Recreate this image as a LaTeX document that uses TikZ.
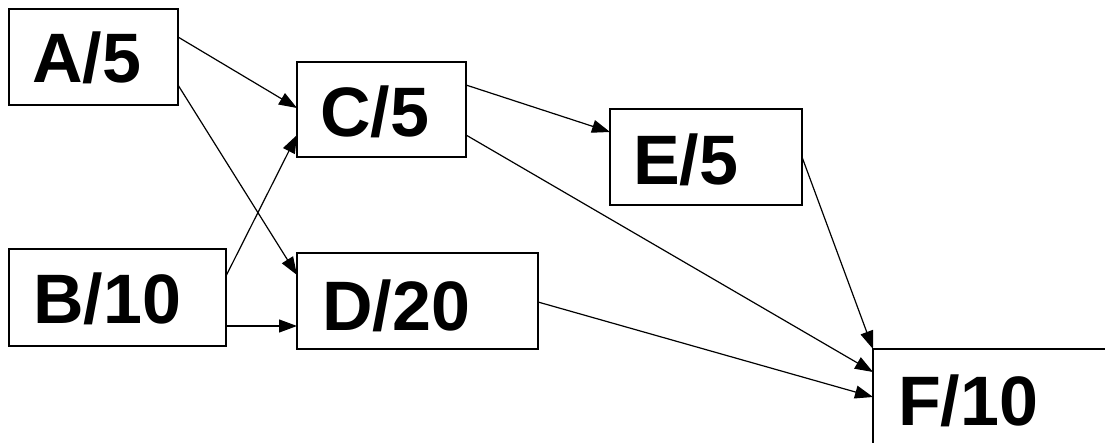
\documentclass[tikz,border=0pt]{standalone}
\usepackage{fontspec}
\setmainfont{Liberation Sans}
\usetikzlibrary{arrows.meta}
\begin{document}
\begin{tikzpicture}[x=1pt,y=1pt,
  box/.style={draw=black,line width=1.4pt,rectangle,inner sep=0pt,outer sep=0pt,fill=white},
  lbl/.style={anchor=base west,inner sep=0pt,font=\fontsize{70}{84}\selectfont\bfseries},
  arr/.style={draw=black,line width=1.2pt,-{Triangle[length=18pt,width=13pt]}}]
\useasboundingbox (0,0) rectangle (1105,442);
\clip (0,0) rectangle (1105,442);
\fill[white] (0,0) rectangle (1105,442);
% boxes
\node[box,minimum width=169pt,minimum height=96pt] (A) at (93.5,385) {};
\node[box,minimum width=217pt,minimum height=97pt] (B) at (117.5,144.5) {};
\node[box,minimum width=169pt,minimum height=95pt] (C) at (381.5,332.5) {};
\node[box,minimum width=241pt,minimum height=96pt] (D) at (417.5,141) {};
\node[box,minimum width=192pt,minimum height=96pt] (E) at (706,285) {};
\node[box,minimum width=277pt,minimum height=101pt] (F) at (1011.5,42.5) {};
% labels
\node[lbl] (tA) at (32,359) {A/5};
\node[lbl] (tB) at (33,119) {B/10};
\node[lbl] (tC) at (320,305) {C/5};
\node[lbl] (tD) at (322,112) {D/20};
\node[lbl] (tE) at (633,257) {E/5};
\node[lbl] (tF) at (898,17) {F/10};
% connectors
\draw[arr] ([yshift=20pt]A.east) -- ([yshift=1.5pt]C.west);
\draw[arr] ([yshift=-28pt]A.east) -- ([yshift=26pt]D.west);
\draw[arr] ([yshift=21.5pt]B.east) -- ([yshift=-25.5pt]C.west);
\draw[arr] ([yshift=-28.5pt]B.east) -- ([yshift=-25pt]D.west);
\draw[arr] ([yshift=24.5pt]C.east) -- ([yshift=25pt]E.west);
\draw[arr] ([yshift=-25.5pt]C.east) -- ([yshift=27.5pt]F.west);
\draw[arr] (E.east) -- (F.north west);
\draw[arr] ([yshift=-1pt]D.east) -- ([yshift=2.5pt]F.west);
\end{tikzpicture}
\end{document}
